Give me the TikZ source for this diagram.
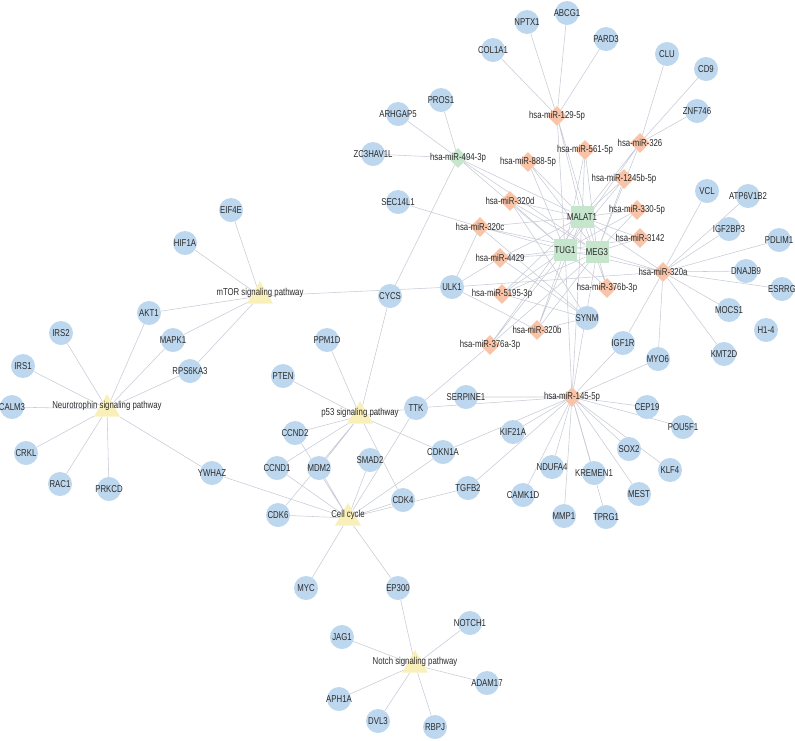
\documentclass[tikz,border=0pt]{standalone}
\usepackage{fontspec}
\usepackage{tikz}
\usetikzlibrary{shapes.geometric,backgrounds}
\newfontfamily\lblfont{Liberation Sans}[FakeStretch=0.78]
\newcommand{\nodefont}{\lblfont\fontsize{10}{11}\selectfont}
\definecolor{genefill}{HTML}{BDD7EE}
\definecolor{mirfill}{HTML}{F8C3A6}
\definecolor{lncfill}{HTML}{C6E5CD}
\definecolor{pwayfill}{HTML}{F9EFB9}
\definecolor{edgecol}{HTML}{C8CBD6}
\definecolor{txtcol}{HTML}{2B2B2B}

\begin{document}
\begin{tikzpicture}[x=1pt, y=-1pt,
    gene/.style={circle, fill=genefill, minimum size=24pt, inner sep=0pt},
    mirna/.style={diamond, fill=mirfill, minimum size=20pt, inner sep=0pt},
    lnc/.style={rectangle, fill=lncfill, minimum width=23pt, minimum height=22pt, inner sep=0pt},
    pway/.style={regular polygon, regular polygon sides=3, fill=pwayfill, minimum size=30pt, inner sep=0pt},
    every label/.style={font=\nodefont, text=txtcol, inner sep=0pt},
    link/.style={draw=edgecol, line width=0.55pt}]
    \useasboundingbox (0,0) rectangle (795,740);

    % pathways
    \node[pway, label={[yshift=3pt]center:mTOR signaling pathway}] (mtor) at (260,296) {};
    \node[pway, label={[yshift=3pt]center:p53 signaling pathway}] (p53) at (360,416) {};
    \node[pway, label={[yshift=3pt]center:Neurotrophin signaling pathway}] (neuro) at (107,409) {};
    \node[pway, label={[yshift=3pt]center:Cell cycle}] (cellcycle) at (348,518) {};
    \node[pway, label={[yshift=3pt]center:Notch signaling pathway}] (notch) at (415,665) {};

    % lncRNAs
    \node[lnc, label=center:MALAT1] (malat1) at (582,217) {};
    \node[lnc, label=center:TUG1] (tug1) at (565,250) {};
    \node[lnc, label=center:MEG3] (meg3) at (597,252) {};

    % miRNAs
    \node[mirna, label=center:hsa-miR-129-5p] (m129) at (557,116) {};
    \node[mirna, label=center:hsa-miR-561-5p] (m561) at (585,150) {};
    \node[mirna, label=center:hsa-miR-326] (m326) at (640,143) {};
    \node[mirna, label=center:hsa-miR-888-5p] (m888) at (528,162) {};
    \node[mirna, fill=lncfill, label=center:hsa-miR-494-3p] (m494) at (458,158) {};
    \node[mirna, label=center:hsa-miR-1245b-5p] (m1245) at (624,179) {};
    \node[mirna, label=center:hsa-miR-320d] (m320d) at (510,201) {};
    \node[mirna, label=center:hsa-miR-330-5p] (m330) at (637,210) {};
    \node[mirna, label=center:hsa-miR-320c] (m320c) at (480,227) {};
    \node[mirna, label=center:hsa-miR-3142] (m3142) at (640,238) {};
    \node[mirna, label=center:hsa-miR-4429] (m4429) at (500,258) {};
    \node[mirna, label=center:hsa-miR-320a] (m320a) at (663,272) {};
    \node[mirna, label=center:hsa-miR-5195-3p] (m5195) at (502,294) {};
    \node[mirna, label=center:hsa-miR-376b-3p] (m376b) at (607,288) {};
    \node[mirna, label=center:hsa-miR-320b] (m320b) at (537,330) {};
    \node[mirna, label=center:hsa-miR-376a-3p] (m376a) at (490,345) {};
    \node[mirna, label=center:hsa-miR-145-5p] (m145) at (572,397) {};

    % genes
    \node[gene, label=center:ABCG1] (abcg1) at (567,13) {};
    \node[gene, label=center:NPTX1] (nptx1) at (527,22) {};
    \node[gene, label=center:PARD3] (pard3) at (606,39) {};
    \node[gene, label=center:COL1A1] (col1a1) at (493,50) {};
    \node[gene, label=center:CLU] (clu) at (667,54) {};
    \node[gene, label=center:CD9] (cd9) at (706,69) {};
    \node[gene, label=center:ZNF746] (znf746) at (697,111) {};
    \node[gene, label=center:PROS1] (pros1) at (441,100) {};
    \node[gene, label=center:ARHGAP5] (arhgap5) at (398,114) {};
    \node[gene, label=center:ZC3HAV1L] (zc3hav1l) at (373,154) {};
    \node[gene, label=center:SEC14L1] (sec14l1) at (398,202) {};
    \node[gene, label=center:EIF4E] (eif4e) at (231,210) {};
    \node[gene, label=center:HIF1A] (hif1a) at (185,243) {};
    \node[gene, label=center:CYCS] (cycs) at (390,296) {};
    \node[gene, label=center:ULK1] (ulk1) at (452,287) {};
    \node[gene, label=center:SYNM] (synm) at (587,318) {};
    \node[gene, label=center:IGF1R] (igf1r) at (623,343) {};
    \node[gene, label=center:VCL] (vcl) at (707,191) {};
    \node[gene, label=center:ATP6V1B2] (atp6v1b2) at (748,196) {};
    \node[gene, label=center:IGF2BP3] (igf2bp3) at (729,229) {};
    \node[gene, label=center:PDLIM1] (pdlim1) at (779,240) {};
    \node[gene, label=center:DNAJB9] (dnajb9) at (746,271) {};
    \node[gene, label=center:ESRRG] (esrrg) at (782,289) {};
    \node[gene, label=center:MOCS1] (mocs1) at (729,310) {};
    \node[gene, label=center:H1-4] (h14) at (766,330) {};
    \node[gene, label=center:KMT2D] (kmt2d) at (724,354) {};
    \node[gene, label=center:MYO6] (myo6) at (658,359) {};
    \node[gene, label=center:SERPINE1] (serpine1) at (466,397) {};
    \node[gene, label=center:TTK] (ttk) at (416,408) {};
    \node[gene, label=center:CEP19] (cep19) at (647,407) {};
    \node[gene, label=center:POU5F1] (pou5f1) at (683,427) {};
    \node[gene, label=center:KIF21A] (kif21a) at (513,432) {};
    \node[gene, label=center:CDKN1A] (cdkn1a) at (443,452) {};
    \node[gene, label=center:SOX2] (sox2) at (629,449) {};
    \node[gene, label=center:KLF4] (klf4) at (670,470) {};
    \node[gene, label=center:NDUFA4] (ndufa4) at (552,467) {};
    \node[gene, label=center:KREMEN1] (kremen1) at (594,473) {};
    \node[gene, label=center:MEST] (mest) at (639,494) {};
    \node[gene, label=center:CAMK1D] (camk1d) at (523,495) {};
    \node[gene, label=center:MMP1] (mmp1) at (564,516) {};
    \node[gene, label=center:TPRG1] (tprg1) at (606,517) {};
    \node[gene, label=center:TGFB2] (tgfb2) at (468,488) {};
    \node[gene, label=center:CDK4] (cdk4) at (403,500) {};
    \node[gene, label=center:SMAD2] (smad2) at (370,460) {};
    \node[gene, label=center:MDM2] (mdm2) at (319,468) {};
    \node[gene, label=center:CCND1] (ccnd1) at (277,468) {};
    \node[gene, label=center:CCND2] (ccnd2) at (295,433) {};
    \node[gene, label=center:CDK6] (cdk6) at (278,515) {};
    \node[gene, label=center:PTEN] (pten) at (283,376) {};
    \node[gene, label=center:PPM1D] (ppm1d) at (327,340) {};
    \node[gene, label=center:YWHAZ] (ywhaz) at (212,473) {};
    \node[gene, label=center:MYC] (myc) at (306,588) {};
    \node[gene, label=center:EP300] (ep300) at (398,588) {};
    \node[gene, label=center:NOTCH1] (notch1) at (470,623) {};
    \node[gene, label=center:JAG1] (jag1) at (342,637) {};
    \node[gene, label=center:ADAM17] (adam17) at (487,683) {};
    \node[gene, label=center:APH1A] (aph1a) at (339,699) {};
    \node[gene, label=center:DVL3] (dvl3) at (378,721) {};
    \node[gene, label=center:RBPJ] (rbpj) at (435,727) {};
    \node[gene, label=center:AKT1] (akt1) at (149,313) {};
    \node[gene, label=center:IRS2] (irs2) at (61,333) {};
    \node[gene, label=center:MAPK1] (mapk1) at (173,340) {};
    \node[gene, label=center:IRS1] (irs1) at (23,366) {};
    \node[gene, label=center:RPS6KA3] (rps6ka3) at (190,371) {};
    \node[gene, label=center:CALM3] (calm3) at (12,407) {};
    \node[gene, label=center:CRKL] (crkl) at (26,453) {};
    \node[gene, label=center:RAC1] (rac1) at (60,484) {};
    \node[gene, label=center:PRKCD] (prkcd) at (109,489) {};

    \begin{scope}[on background layer]
        % lncRNA - miRNA
        \draw[link] (m129) -- (malat1) (m129) -- (tug1) (m129) -- (meg3);
        \draw[link] (m561) -- (malat1) (m561) -- (tug1) (m561) -- (meg3);
        \draw[link] (m326) -- (malat1) (m326) -- (tug1) (m326) -- (meg3);
        \draw[link] (m888) -- (malat1) (m888) -- (tug1) (m888) -- (meg3);
        \draw[link] (m494) -- (malat1) (m494) -- (tug1) (m494) -- (meg3);
        \draw[link] (m1245) -- (malat1) (m1245) -- (tug1) (m1245) -- (meg3);
        \draw[link] (m320d) -- (malat1) (m320d) -- (tug1) (m320d) -- (meg3);
        \draw[link] (m330) -- (malat1) (m330) -- (tug1) (m330) -- (meg3);
        \draw[link] (m320c) -- (malat1) (m320c) -- (tug1) (m320c) -- (meg3);
        \draw[link] (m3142) -- (malat1) (m3142) -- (tug1) (m3142) -- (meg3);
        \draw[link] (m4429) -- (malat1) (m4429) -- (tug1) (m4429) -- (meg3);
        \draw[link] (m320a) -- (malat1) (m320a) -- (tug1) (m320a) -- (meg3);
        \draw[link] (m5195) -- (malat1) (m5195) -- (tug1) (m5195) -- (meg3);
        \draw[link] (m376b) -- (malat1) (m376b) -- (tug1) (m376b) -- (meg3);
        \draw[link] (m320b) -- (malat1) (m320b) -- (tug1) (m320b) -- (meg3);
        \draw[link] (m376a) -- (malat1) (m376a) -- (tug1) (m376a) -- (meg3);
        \draw[link] (m145) -- (malat1) (m145) -- (tug1) (m145) -- (meg3);

        % miRNA - gene
        \draw[link] (m129) -- (col1a1) (m129) -- (nptx1) (m129) -- (abcg1) (m129) -- (pard3);
        \draw[link] (m326) -- (clu) (m326) -- (cd9) (m326) -- (znf746);
        \draw[link] (m494) -- (pros1) (m494) -- (arhgap5) (m494) -- (zc3hav1l) (m494) -- (cycs);
        \draw[link] (m320c) -- (sec14l1) (m320c) -- (ulk1) (m4429) -- (ulk1) (m320b) -- (ulk1);
        \draw[link] (synm) -- (m320d) (synm) -- (m320c) (synm) -- (m4429) (synm) -- (m5195) (synm) -- (m320b);
        \draw[link] (m320a) -- (ulk1) (m320a) -- (vcl) (m320a) -- (atp6v1b2) (m320a) -- (igf2bp3);
        \draw[link] (m320a) -- (pdlim1) (m320a) -- (dnajb9) (m320a) -- (esrrg) (m320a) -- (mocs1);
        \draw[link] (m320a) -- (kmt2d) (m320a) -- (myo6) (m320a) -- (igf1r);
        \draw[link] (m145) -- (igf1r) (m145) -- (myo6) (m145) -- (serpine1) (m145) -- (ttk);
        \draw[link] (m145) -- (cep19) (m145) -- (pou5f1) (m145) -- (kif21a) (m145) -- (cdkn1a);
        \draw[link] (m145) -- (sox2) (m145) -- (klf4) (m145) -- (ndufa4) (m145) -- (kremen1);
        \draw[link] (m145) -- (mest) (m145) -- (camk1d) (m145) -- (mmp1) (m145) -- (tprg1) (m145) -- (tgfb2);
        \draw[link] (m376a) -- (ttk);

        % pathway - gene
        \draw[link] (neuro) -- (akt1) (neuro) -- (irs2) (neuro) -- (mapk1) (neuro) -- (irs1) (neuro) -- (rps6ka3);
        \draw[link] (neuro) -- (calm3) (neuro) -- (crkl) (neuro) -- (rac1) (neuro) -- (prkcd) (neuro) -- (ywhaz);
        \draw[link] (mtor) -- (eif4e) (mtor) -- (hif1a) (mtor) -- (akt1) (mtor) -- (mapk1) (mtor) -- (rps6ka3) (mtor) -- (ulk1);
        \draw[link] (p53) -- (ppm1d) (p53) -- (pten) (p53) -- (cycs) (p53) -- (ttk) (p53) -- (ccnd2);
        \draw[link] (p53) -- (ccnd1) (p53) -- (mdm2) (p53) -- (cdkn1a) (p53) -- (cdk4) (p53) -- (cdk6);
        \draw[link] (cellcycle) -- (ccnd2) (cellcycle) -- (ccnd1) (cellcycle) -- (mdm2) (cellcycle) -- (smad2);
        \draw[link] (cellcycle) -- (cdk4) (cellcycle) -- (tgfb2) (cellcycle) -- (cdk6) (cellcycle) -- (cdkn1a);
        \draw[link] (cellcycle) -- (ttk) (cellcycle) -- (ywhaz) (cellcycle) -- (myc) (cellcycle) -- (ep300);
        \draw[link] (notch) -- (ep300) (notch) -- (notch1) (notch) -- (jag1) (notch) -- (adam17);
        \draw[link] (notch) -- (aph1a) (notch) -- (dvl3) (notch) -- (rbpj);
    \end{scope}
\end{tikzpicture}
\end{document}
